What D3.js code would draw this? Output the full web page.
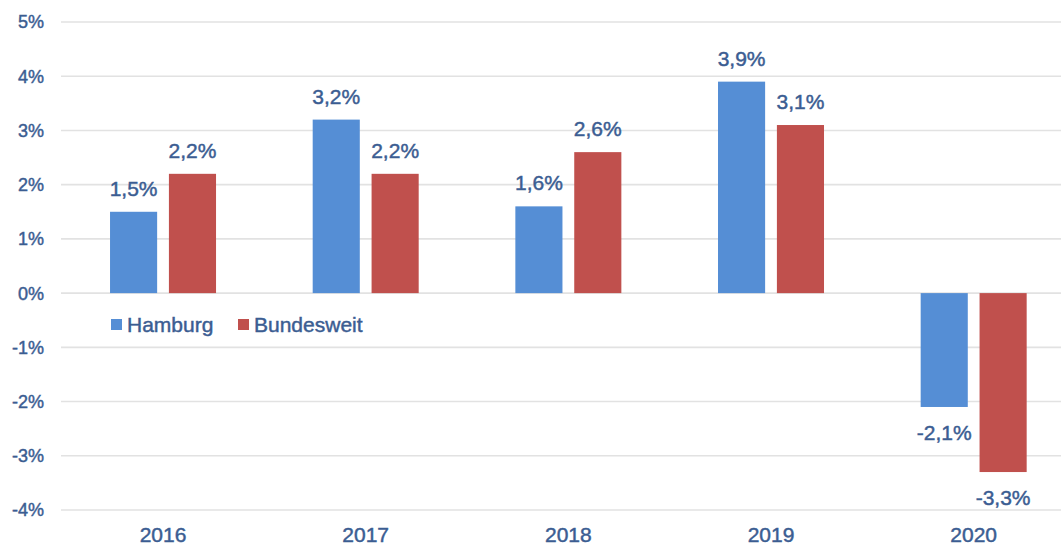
<!DOCTYPE html>
<html><head><meta charset="utf-8">
<script src="https://cdn.jsdelivr.net/npm/d3@7"></script>
<style>body{margin:0;background:#fff;}svg{display:block;font-family:"Liberation Sans",Arial,sans-serif;}
text{stroke:#3b5d92;stroke-width:0.45px;}</style>
</head><body>
<script>
const years = ["2016","2017","2018","2019","2020"];
const seriesNames = ["Hamburg","Bundesweit"];
const hamburg = [1.5, 3.2, 1.6, 3.9, -2.1];
const bundesweit = [2.2, 2.2, 2.6, 3.1, -3.3];
const yTicks = [5,4,3,2,1,0,-1,-2,-3,-4];
const colors = ["#558ed5","#c0504d"];
const textColor = "#3b5d92";

const W = 1061, H = 545;
const svg = d3.select("body").append("svg").attr("width", W).attr("height", H);

const y = d3.scaleLinear().domain([-4, 5]).range([510, 22]);
const x0 = d3.scaleBand().domain(years).range([61.7, 1075]).padding(0);
const x1 = d3.scaleBand().domain(seriesNames).range([0, 106]).paddingInner(0.2);
const fmt = v => String(v.toFixed(1)).replace(".", ",") + "%";

// gridlines
svg.append("g").selectAll("line").data(yTicks).join("line")
  .attr("x1", 61).attr("x2", W)
  .attr("y1", d => y(d)).attr("y2", d => y(d))
  .attr("stroke", "#e2e2e2").attr("stroke-width", 1.6);

// y tick labels
svg.append("g").selectAll("text").data(yTicks).join("text")
  .attr("x", 44).attr("y", d => y(d)).attr("dy", "0.36em")
  .attr("text-anchor", "end").attr("fill", textColor)
  .attr("font-size", 18).text(d => d + "%");

const data = years.map((yr, i) => ({year: yr, vals: [
  {name: "Hamburg", v: hamburg[i]}, {name: "Bundesweit", v: bundesweit[i]}]}));

const g = svg.append("g").selectAll("g").data(data).join("g")
  .attr("transform", d => `translate(${x0(d.year) + x0.bandwidth()/2 - 53},0)`);

g.selectAll("rect").data(d => d.vals).join("rect")
  .attr("x", d => x1(d.name)).attr("width", x1.bandwidth())
  .attr("y", d => y(Math.max(0, d.v)))
  .attr("height", d => Math.abs(y(d.v) - y(0)))
  .attr("fill", (d, i) => colors[i]);

g.selectAll("text.lbl").data(d => d.vals).join("text").attr("class","lbl")
  .attr("x", d => x1(d.name) + x1.bandwidth()/2)
  .attr("y", d => d.v >= 0 ? y(d.v) - 16 : y(d.v) + 33)
  .attr("text-anchor", "middle").attr("fill", textColor)
  .attr("font-size", 21).text(d => fmt(d.v));

// x labels
svg.append("g").selectAll("text").data(years).join("text")
  .attr("x", d => x0(d) + x0.bandwidth()/2).attr("y", 542)
  .attr("text-anchor", "middle").attr("fill", textColor)
  .attr("font-size", 21).text(d => d);

// legend
const leg = svg.append("g");
const legX = [111, 238];
seriesNames.forEach((n, i) => {
  leg.append("rect").attr("x", legX[i]).attr("y", 319).attr("width", 11).attr("height", 11).attr("fill", colors[i]);
  leg.append("text").attr("x", legX[i] + 16).attr("y", 332).attr("fill", textColor)
    .attr("font-size", 21).text(n);
});
</script>
</body></html>
